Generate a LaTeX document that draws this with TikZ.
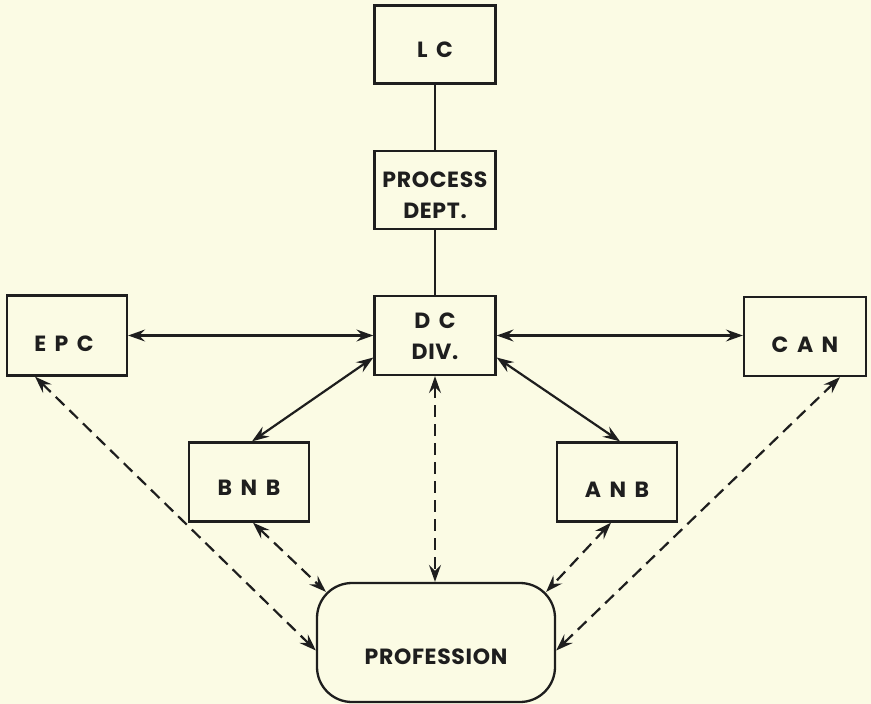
\documentclass[tikz,border=0pt]{standalone}
\usepackage{fontspec}
\newfontfamily\lab{Poppins}[LetterSpace=3,WordSpace=1.6]
\usetikzlibrary{arrows.meta,calc}
\definecolor{paper}{HTML}{FBFBE4}
\definecolor{ink}{HTML}{1E1E1E}
\begin{document}
\begin{tikzpicture}[x=1pt,y=-1pt,
  box/.style={draw=ink,line width=2.3pt,minimum width=121pt,minimum height=78pt,inner sep=0pt,fill=paper},
  lbl/.style={text=ink,font=\lab\bfseries\fontsize{22}{31}\selectfont,align=center,inner sep=0pt},
  link/.style={draw=ink,line width=2.2pt},
  tip/.tip={Stealth[length=17pt,width=12pt,inset=6pt]},
  both/.style={link,tip-tip},
  dsh/.style={both,dash pattern=on 12pt off 7pt}]
\useasboundingbox[fill=paper] (0,0) rectangle (871,704);

\node[box] (LC) at (435,44.5) {};
\node[box] (PROC) at (435,190) {};
\node[box,minimum height=79pt] (DC) at (435,335.5) {};
\node[box,minimum width=120pt,minimum height=80pt] (EPC) at (67,335.5) {};
\node[box,minimum width=122pt,minimum height=79pt] (CAN) at (805,336.5) {};
\node[box,minimum width=120pt,minimum height=79pt] (BNB) at (249,482) {};
\node[box,minimum width=120pt,minimum height=79pt] (ANB) at (617,482) {};
\node[box,minimum width=238pt,minimum height=119pt,rounded corners=35pt] (PROF) at (436,642.5) {};

\node[lbl] (LCt) at ($(LC)+(0,5)$) {L C};
\node[lbl] (PROCt) at ($(PROC)+(0,5)$) {PROCESS\\DEPT.};
\node[lbl] (DCt) at ($(DC)+(0,1)$) {D C\\DIV.};
\node[lbl] (EPCt) at ($(EPC)+(-3,8)$) {E P C};
\node[lbl] (CANt) at ($(CAN)+(0,8)$) {C A N};
\node[lbl] (BNBt) at ($(BNB)+(0,6)$) {B N B};
\node[lbl] (ANBt) at ($(ANB)+(0,8)$) {A N B};
\node[lbl] (PROFt) at ($(PROF)+(0,14)$) {PROFESSION};

\draw[link] (LC) -- (PROC);
\draw[link] (PROC) -- (DC);
\draw[both] (EPC) -- (DC);
\draw[both] (DC.east) -- (DC.east -| CAN.west);
\draw[both] ($(DC.west)+(0,22)$) -- ($(BNB.north)+(3,0)$);
\draw[both] ($(DC.east)+(0,22)$) -- ($(ANB.north)+(3,0)$);

\draw[dsh] ($(EPC.south)+(-32,0)$) -- ($(PROF.west)+(0,8)$);
\draw[dsh] ($(BNB.south)+(4,0)$) -- ($(PROF.north west)+(10,10)$);
\draw[dsh] (DC.south) -- (DC.south |- PROF.north);
\draw[dsh] ($(ANB.south)+(-6,0)$) -- ($(PROF.north east)+(-10,10)$);
\draw[dsh] ($(CAN.south)+(35,0)$) -- ($(PROF.east)+(0,8)$);
\end{tikzpicture}
\end{document}
